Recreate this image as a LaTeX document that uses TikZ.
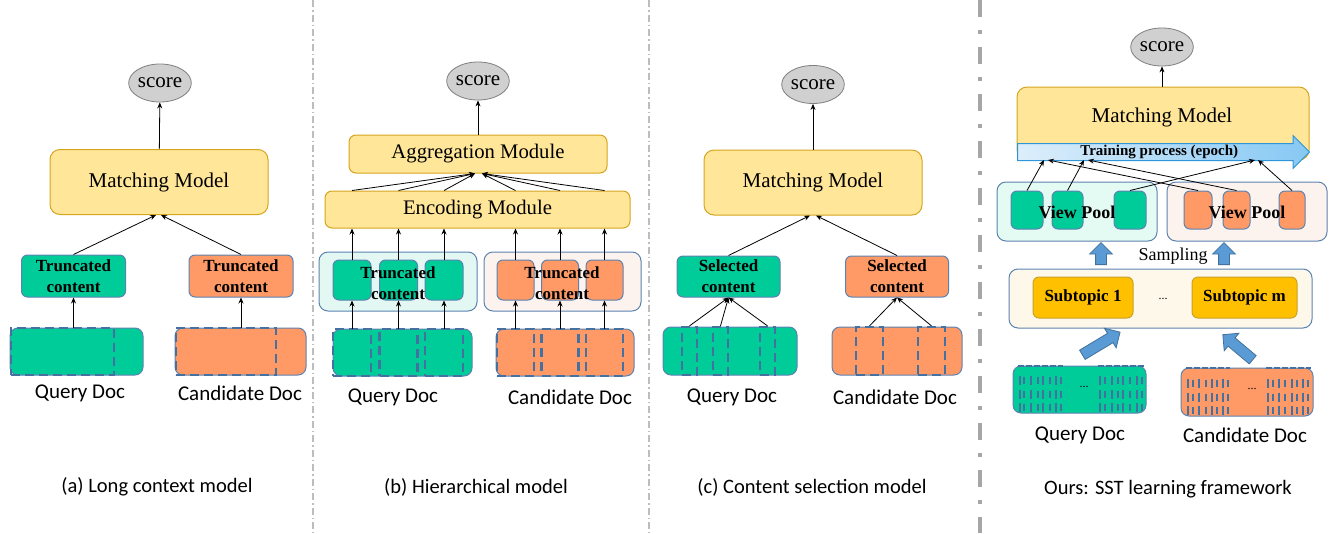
\documentclass[tikz,border=0pt]{standalone}
\usepackage{fontspec}
\setmainfont{Liberation Serif}
\newfontfamily\calibrifont{Carlito}
\usetikzlibrary{arrows.meta, positioning, shapes.geometric, shapes.arrows, calc}

\definecolor{qGreen}{HTML}{00CC99}
\definecolor{cOrange}{HTML}{FF9966}
\definecolor{boxLine}{HTML}{5B82B0}
\definecolor{dashBlue}{HTML}{44719F}
\definecolor{modelFill}{HTML}{FFE699}
\definecolor{modelLine}{HTML}{D6A51E}
\definecolor{scoreFill}{HTML}{D0D0D0}
\definecolor{scoreLine}{HTML}{7F7F7F}
\definecolor{poolGreen}{HTML}{E4F8F3}
\definecolor{poolMint}{HTML}{E3FBF3}
\definecolor{poolOrange}{HTML}{FDF3EE}
\definecolor{topicFill}{HTML}{FEF8EA}
\definecolor{topicBox}{HTML}{FFC000}
\definecolor{topicLine}{HTML}{C9A227}
\definecolor{fatBlue}{HTML}{5B9BD5}
\definecolor{fatLine}{HTML}{41719C}
\definecolor{trainLeft}{HTML}{DDEEFB}
\definecolor{trainRight}{HTML}{86C8F3}
\definecolor{trainLine}{HTML}{2E95D8}
\definecolor{sepLight}{HTML}{BDBDBD}
\definecolor{sepGray}{HTML}{A6A6A6}

\begin{document}
\begin{tikzpicture}[x=1pt, y=-1pt, >=Stealth, line width=0.8pt]
      \tikzstyle{scoreNode} = [ellipse, draw=scoreLine, fill=scoreFill, line width=0.8pt, minimum width=60pt, minimum height=38pt, inner sep=0pt, font=\fontsize{21}{24}\selectfont]
      \tikzstyle{modelNode} = [rectangle, rounded corners=10pt, draw=modelLine, fill=modelFill, line width=1pt, font=\fontsize{21}{24}\selectfont]
      \tikzstyle{moduleNode} = [modelNode, rounded corners=7pt, font=\fontsize{20.7}{24}\selectfont]
      \tikzstyle{contentNode} = [rectangle, rounded corners=6pt, draw=boxLine, line width=1pt, minimum width=104pt, minimum height=42pt, inner sep=0pt, align=center, font=\bfseries\fontsize{17}{21}\selectfont]
      \tikzstyle{docNode} = [rectangle, rounded corners=8pt, draw=boxLine, line width=1pt, minimum height=47pt]
      \tikzstyle{cutBox} = [rectangle, draw=dashBlue, line width=2.6pt, dash pattern=on 9pt off 5pt, minimum height=47pt, inner sep=0pt]
      \tikzstyle{poolNode} = [rectangle, rounded corners=9pt, draw=boxLine, line width=1pt, minimum height=59pt]
      \tikzstyle{chunkNode} = [rectangle, rounded corners=6pt, draw=boxLine, line width=1pt, inner sep=0pt]
      \tikzstyle{boldText} = [inner sep=0pt, align=center, font=\bfseries\fontsize{17}{21}\selectfont]
      \tikzstyle{docLabel} = [font=\calibrifont\fontsize{21}{25}\selectfont]
      \tikzstyle{captionText} = [font=\calibrifont\fontsize{20.5}{24}\selectfont]
      \tikzstyle{myArrow} = [-{Stealth[length=6pt, width=5pt]}, line width=0.8pt, black]
      \tikzstyle{fatArrow} = [single arrow, draw=fatLine, fill=fatBlue, line width=0.8pt, inner sep=0pt, text height=10pt, text depth=0pt, single arrow head extend=6pt, single arrow head indent=0pt]
      \tikzstyle{trainArrow} = [single arrow, draw=trainLine, left color=trainLeft, right color=trainRight, line width=1pt, inner xsep=2pt, inner ysep=1.5pt, text height=10pt, text depth=3pt, single arrow head extend=8pt, single arrow head indent=0pt, minimum height=292pt, font=\bfseries\fontsize{15}{16}\selectfont]
      \tikzstyle{markLine} = [draw=dashBlue, line width=1.8pt]
      \tikzstyle{sepLine} = [draw=sepLight, line width=1.2pt, dash pattern=on 7pt off 3pt on 1.5pt off 3pt]
      \tikzstyle{sepThick} = [draw=sepGray, line width=4pt, dash pattern=on 17pt off 13pt on 4pt off 13pt]

      \useasboundingbox (0,0) rectangle (1338,533);

      % separators
      \draw[sepLine] (313,0) -- (313,533);
      \draw[sepLine] (649,0) -- (649,533);
      \draw[sepThick] (980,0) -- (980,533);

      % (a) long context model
      \node[scoreNode] (scoreA) at (160,83) {score};
      \node[modelNode, minimum width=218pt, minimum height=65pt] (modelA) at (159,182) {Matching Model};
      \node[contentNode, fill=qGreen] (truncQA) at (73.5,276) {Truncated\\content};
      \node[contentNode, fill=cOrange] (truncCA) at (241,276) {Truncated\\content};
      \node[docNode, fill=qGreen, minimum width=133pt] (queryA) at (76.5,351.5) {};
      \node[docNode, fill=cOrange, minimum width=131pt] (candA) at (240.5,351.5) {};
      \node[cutBox, minimum width=103pt, anchor=west] (cutQA) at (queryA.west) {};
      \node[cutBox, minimum width=100pt, anchor=west] (cutCA) at (candA.west) {};
      \node[docLabel] (qLabelA) at (80,393) {Query Doc};
      \node[docLabel] (cLabelA) at (240,393) {Candidate Doc};
      \node[captionText] (capA) at (157,487) {(a) Long context model};

      \draw[myArrow] (truncQA.south |- queryA.north) -- (truncQA);
      \draw[myArrow] (truncCA.south |- candA.north) -- (truncCA);
      \draw[myArrow] (truncQA.north) -- ([xshift=-3pt]modelA.south);
      \draw[myArrow] (truncCA.north) -- ([xshift=2pt]modelA.south);
      \draw[myArrow] (modelA) -- (scoreA);

      % (b) hierarchical model
      \node[scoreNode] (scoreB) at (478,81) {score};
      \node[moduleNode, minimum width=258pt, minimum height=38pt] (aggB) at (478,154) {Aggregation Module};
      \node[moduleNode, minimum width=305pt, minimum height=37pt] (encB) at (477.5,209.5) {Encoding Module};
      \node[poolNode, fill=poolGreen, minimum width=158pt] (poolQB) at (398,281.5) {};
      \node[poolNode, fill=poolOrange, minimum width=157pt] (poolCB) at (562.5,281.5) {};
      \node[docNode, fill=qGreen, minimum width=139pt] (queryB) at (402.5,352.5) {};
      \node[docNode, fill=cOrange, minimum width=138pt] (candB) at (565,352.5) {};
      \foreach \x [count=\i] in {352,398.5,444} {
        \node[chunkNode, fill=qGreen, minimum width=38pt, minimum height=40pt] (chunkQ\i) at (\x,280) {};
        \node[cutBox, minimum width=38pt] (cutQ\i) at (chunkQ\i |- queryB) {};
        \draw[myArrow] (chunkQ\i |- queryB.north) -- (chunkQ\i.south);
        \draw[myArrow] (chunkQ\i.north) -- (chunkQ\i |- encB.south);
        \draw[myArrow] (chunkQ\i |- encB.north) -- ([xshift=-3pt]aggB.south);
      }
      \foreach \x [count=\i] in {515.5,560,604.5} {
        \node[chunkNode, fill=cOrange, minimum width=37pt, minimum height=40pt] (chunkC\i) at (\x,280) {};
        \node[cutBox, minimum width=37pt] (cutC\i) at (chunkC\i |- candB) {};
        \draw[myArrow] (chunkC\i |- candB.north) -- (chunkC\i.south);
        \draw[myArrow] (chunkC\i.north) -- (chunkC\i |- encB.south);
        \draw[myArrow] (chunkC\i |- encB.north) -- ([xshift=4pt]aggB.south);
      }
      \node[boldText] (truncQB) at (398,283) {Truncated\\content};
      \node[boldText] (truncCB) at (562,283) {Truncated\\content};
      \node[docLabel] (qLabelB) at (393,397) {Query Doc};
      \node[docLabel] (cLabelB) at (570,397) {Candidate Doc};
      \node[captionText] (capB) at (476,487) {(b) Hierarchical model};
      \draw[myArrow] (aggB) -- (scoreB);

      % (c) content selection model
      \node[scoreNode] (scoreC) at (813,84.5) {score};
      \node[modelNode, minimum width=218pt, minimum height=65pt] (modelC) at (813,182.5) {Matching Model};
      \node[contentNode, fill=qGreen, minimum width=103pt, minimum height=41pt] (selQC) at (728.5,276.5) {Selected\\content};
      \node[contentNode, fill=cOrange, minimum width=103pt, minimum height=41pt] (selCC) at (897,276.5) {Selected\\content};
      \node[docNode, fill=qGreen, minimum width=134pt, minimum height=48pt] (queryC) at (730,351) {};
      \node[docNode, fill=cOrange, minimum width=130pt, minimum height=48pt] (candC) at (897,351) {};
      \foreach \x [count=\i] in {689.5,720.5,767.5} {
        \node[cutBox, minimum width=15pt, minimum height=48pt, line width=2.2pt] (selCutQ\i) at (\x,351) {};
        \draw[myArrow] (selCutQ\i.north) -- (selQC.south);
      }
      \foreach \x [count=\i] in {869.5,931.5} {
        \node[cutBox, minimum width=27pt, minimum height=48pt, line width=2.2pt] (selCutC\i) at (\x,351) {};
        \draw[myArrow] (selCutC\i.north) -- (selCC.south);
      }
      \node[docLabel] (qLabelC) at (732,397) {Query Doc};
      \node[docLabel] (cLabelC) at (895,397) {Candidate Doc};
      \node[captionText] (capC) at (812,487) {(c) Content selection model};
      \draw[myArrow] (selQC.north) -- ([xshift=-3pt]modelC.south);
      \draw[myArrow] (selCC.north) -- ([xshift=3pt]modelC.south);
      \draw[myArrow] (modelC) -- (scoreC);

      % ours: SST learning framework
      \node[scoreNode] (scoreD) at (1162,47) {score};
      \node[modelNode, minimum width=292pt, minimum height=73pt] (modelD) at (1163,123.5) {};
      \node[font=\fontsize{21}{24}\selectfont] (modelTextD) at (1162,117) {Matching Model};
      \node[trainArrow, anchor=tail] (trainD) at (1017,152) {Training process (epoch)};
      \draw[myArrow] (modelD.north -| scoreD) -- (scoreD);

      \node[poolNode, fill=poolMint, minimum width=160pt] (poolQD) at (1077,211.5) {};
      \node[poolNode, fill=poolOrange, minimum width=160pt] (poolCD) at (1247,211.5) {};
      \foreach \x/\w [count=\i] in {1027/32,1067.5/31,1130/32} {
        \node[chunkNode, fill=qGreen, minimum width=\w pt, minimum height=38pt] (viewQ\i) at (\x,210) {};
      }
      \foreach \x/\w [count=\i] in {1198/28,1236.5/27,1292/26} {
        \node[chunkNode, fill=cOrange, minimum width=\w pt, minimum height=38pt] (viewC\i) at (\x,210) {};
      }
      \node[boldText, font=\bfseries\fontsize{18}{21}\selectfont] (viewTextQ) at (1077,212) {View Pool};
      \node[boldText, font=\bfseries\fontsize{18}{21}\selectfont] (viewTextC) at (1247,212) {View Pool};
      \draw[myArrow] (viewQ1.north) -- ($(trainD.tail)+(27,8)$);
      \draw[myArrow] (viewQ2.north) -- ($(trainD.tail)+(67,8)$);
      \draw[myArrow] (viewQ3.north) -- ($(trainD.tail)+(238,8)$);
      \draw[myArrow] (viewC1.north) -- ($(trainD.tail)+(31,8)$);
      \draw[myArrow] (viewC2.north) -- ($(trainD.tail)+(71,8)$);
      \draw[myArrow] (viewC3.north) -- ($(trainD.tail)+(241,8)$);

      \node[rectangle, rounded corners=9pt, draw=boxLine, line width=1pt, fill=topicFill, minimum width=303pt, minimum height=59pt] (topicD) at (1160.5,298.5) {};
      \node[rectangle, rounded corners=6pt, draw=topicLine, line width=1pt, fill=topicBox, minimum width=100pt, minimum height=41pt, font=\bfseries\fontsize{17}{20}\selectfont] (sub1) at (1083,297.5) {Subtopic 1};
      \node[rectangle, rounded corners=6pt, draw=topicLine, line width=1pt, fill=topicBox, minimum width=105pt, minimum height=41pt, font=\bfseries\fontsize{17}{20}\selectfont] (subM) at (1244.5,297.5) {Subtopic m};
      \node[font=\fontsize{12}{14}\selectfont] (subDots) at (1163,299) {...};
      \node[fatArrow, minimum height=22pt, rotate=90, anchor=tail] (upQ) at (1101,265) {};
      \node[fatArrow, minimum height=22pt, rotate=90, anchor=tail] (upC) at (1224,265) {};
      \node[font=\fontsize{18}{21}\selectfont] (sampling) at (1173,256) {Sampling};

      \node[docNode, fill=qGreen, minimum width=133pt] (queryD) at (1079.5,389.5) {};
      \node[docNode, fill=cOrange, minimum width=132pt, minimum height=48pt] (candD) at (1247,392) {};
      \foreach \x [count=\k] in {1020,1024,1031,1038,1043,1050,1056,1061,1100,1105,1112,1118,1123,1130,1137,1142} {
        \pgfmathsetmacro{\h}{isodd(\k) ? 4.5 : 3.5}
        \foreach \y in {380,394,407}
          \draw[markLine] (\x,\y-\h) -- (\x,\y+\h);
      }
      \foreach \x [count=\k] in {1188,1193,1199,1206,1212,1217,1223,1228,1268,1273,1279,1285,1292,1297,1303,1308} {
        \pgfmathsetmacro{\h}{isodd(\k) ? 4.5 : 3.5}
        \foreach \y in {383,397,410}
          \draw[markLine] (\x,\y-\h) -- (\x,\y+\h);
      }
      \draw[markLine, dash pattern=on 6pt off 2pt] (1018,366) -- (1063,366) (1098,366) -- (1144,366);
      \draw[markLine, dash pattern=on 6pt off 2pt] (1186,368) -- (1230,368) (1266,368) -- (1311,368);
      \node[font=\fontsize{12}{14}\selectfont] (queryDots) at (1084,387) {...};
      \node[font=\fontsize{12}{14}\selectfont] (candDots) at (1252,389) {...};
      \node[fatArrow, minimum height=44pt, rotate=31, anchor=tail] (diagQ) at (1082,355) {};
      \node[fatArrow, minimum height=39pt, rotate=140, anchor=tail] (diagC) at (1253,360) {};
      \node[docLabel] (qLabelD) at (1080,435) {Query Doc};
      \node[docLabel] (cLabelD) at (1245,435) {Candidate Doc};
      \node[captionText] (capD) at (1168,489) {Ours: SST learning framework};

    \end{tikzpicture}
\end{document}
